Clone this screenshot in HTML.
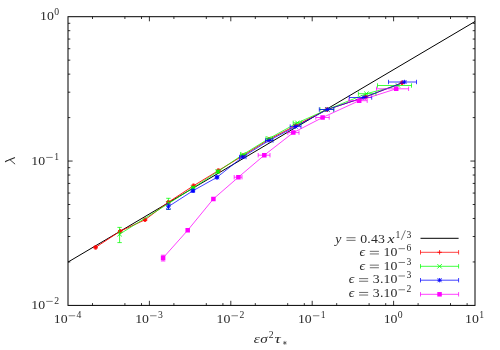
<!DOCTYPE html>
<html><head><meta charset="utf-8"><title>plot</title>
<style>html,body{margin:0;padding:0;background:#fff;}svg{display:block;will-change:transform;}text{font-family:"Liberation Serif",serif;fill:#2a2a2a;}.i{font-style:italic;}</style></head><body>
<svg width="500" height="350" viewBox="0 0 500 350">
<rect x="0" y="0" width="500" height="350" fill="#ffffff"/>
<path d="M92.50 305.4V303.10M92.50 16.7V19.00M124.90 305.4V303.10M124.90 16.7V19.00M141.51 305.4V303.10M141.51 16.7V19.00M149.40 305.4V300.80M149.40 16.7V21.30M173.90 305.4V303.10M173.90 16.7V19.00M206.30 305.4V303.10M206.30 16.7V19.00M222.91 305.4V303.10M222.91 16.7V19.00M230.80 305.4V300.80M230.80 16.7V21.30M255.30 305.4V303.10M255.30 16.7V19.00M287.70 305.4V303.10M287.70 16.7V19.00M304.31 305.4V303.10M304.31 16.7V19.00M312.20 305.4V300.80M312.20 16.7V21.30M336.70 305.4V303.10M336.70 16.7V19.00M369.10 305.4V303.10M369.10 16.7V19.00M385.71 305.4V303.10M385.71 16.7V19.00M393.60 305.4V300.80M393.60 16.7V21.30M418.10 305.4V303.10M418.10 16.7V19.00M450.50 305.4V303.10M450.50 16.7V19.00M467.11 305.4V303.10M467.11 16.7V19.00M68.0 117.60H70.30M475.0 117.60H472.70M68.0 92.18H70.30M475.0 92.18H472.70M68.0 74.14H70.30M475.0 74.14H472.70M68.0 60.15H70.30M475.0 60.15H472.70M68.0 48.72H70.30M475.0 48.72H472.70M68.0 39.06H70.30M475.0 39.06H472.70M68.0 30.69H70.30M475.0 30.69H472.70M68.0 23.31H70.30M475.0 23.31H472.70M68.0 161.05H72.60M475.0 161.05H470.40M68.0 261.95H70.30M475.0 261.95H472.70M68.0 236.53H70.30M475.0 236.53H472.70M68.0 218.49H70.30M475.0 218.49H472.70M68.0 204.50H70.30M475.0 204.50H472.70M68.0 193.07H70.30M475.0 193.07H472.70M68.0 183.41H70.30M475.0 183.41H472.70M68.0 175.04H70.30M475.0 175.04H472.70M68.0 167.66H70.30M475.0 167.66H472.70" stroke="#000" stroke-width="0.8" fill="none"/>
<path d="M68.00 262.08L475.00 21.49" stroke="#000" stroke-width="1.0" fill="none"/>
<path d="M95.6 247.4L120.2 231.2L145.0 219.8L168.4 202.2L193.5 185.8L218.4 170.6L243.0 155.6L269.0 139.4L295.6 125.6L327.0 109.6L365.6 96.9L402.0 82.8" stroke="#ff0000" stroke-width="0.9" fill="none"/>
<path d="M93.4 247.4H97.8M95.6 245.2V249.6M94.9 245.2V249.6M96.3 245.2V249.6M93.4 246.7H97.8M93.4 248.1H97.8M118.0 231.2H122.4M120.2 229.0V233.4M119.5 229.0V233.4M120.9 229.0V233.4M118.0 230.5H122.4M118.0 231.9H122.4M142.8 219.8H147.2M145.0 217.6V222.0M144.3 217.6V222.0M145.7 217.6V222.0M142.8 219.1H147.2M142.8 220.5H147.2M166.2 202.2H170.6M168.4 200.0V204.4M167.7 200.0V204.4M169.1 200.0V204.4M166.2 201.5H170.6M166.2 202.9H170.6M191.3 185.8H195.7M193.5 183.6V188.0M192.8 183.6V188.0M194.2 183.6V188.0M191.3 185.1H195.7M191.3 186.5H195.7M216.2 170.6H220.6M218.4 168.4V172.8M217.7 168.4V172.8M219.1 168.4V172.8M216.2 169.9H220.6M216.2 171.3H220.6M240.8 155.6H245.2M243.0 153.4V157.8M242.3 153.4V157.8M243.7 153.4V157.8M240.8 154.9H245.2M240.8 156.3H245.2M266.8 139.4H271.2M269.0 137.2V141.6M268.3 137.2V141.6M269.7 137.2V141.6M266.8 138.7H271.2M266.8 140.1H271.2M293.4 125.6H297.8M295.6 123.4V127.8M294.9 123.4V127.8M296.3 123.4V127.8M293.4 124.9H297.8M293.4 126.3H297.8M324.8 109.6H329.2M327.0 107.4V111.8M326.3 107.4V111.8M327.7 107.4V111.8M324.8 108.9H329.2M324.8 110.3H329.2M363.4 96.9H367.8M365.6 94.7V99.1M364.9 94.7V99.1M366.3 94.7V99.1M363.4 96.2H367.8M363.4 97.6H367.8M399.8 82.8H404.2M402.0 80.6V85.0M401.3 80.6V85.0M402.7 80.6V85.0M399.8 82.1H404.2M399.8 83.5H404.2" stroke="#ff0000" stroke-width="0.85" fill="none"/>
<path d="M119.6 234.2L168.4 203.6L193.0 187.9L217.8 171.6L243.0 154.5L269.0 138.5L297.4 122.8L327.4 109.5L366.4 93.7L398.0 85.5" stroke="#00ff00" stroke-width="0.75" fill="none"/>
<path d="M119.6 227.4V242.6M117.4 227.4H121.8M117.4 242.6H121.8M168.4 198.3V209.3M166.2 198.3H170.6M166.2 209.3H170.6M240.5 154.5H246.0M240.5 152.3V156.7M246.0 152.3V156.7M266.0 138.5H272.5M266.0 136.3V140.7M272.5 136.3V140.7M293.2 122.8H301.6M293.2 120.6V125.0M301.6 120.6V125.0M320.0 109.5H333.6M320.0 107.3V111.7M333.6 107.3V111.7M358.4 93.7H376.0M358.4 91.5V95.9M376.0 91.5V95.9M377.5 85.5H411.5M377.5 83.3V87.7M411.5 83.3V87.7" stroke="#00ff00" stroke-width="0.75" fill="none"/>
<path d="M117.4 232.0L121.8 236.4M117.4 236.4L121.8 232.0M166.2 201.4L170.6 205.8M166.2 205.8L170.6 201.4M190.8 185.7L195.2 190.1M190.8 190.1L195.2 185.7M192.3 185.7V190.1M193.7 185.7V190.1M190.8 187.2H195.2M190.8 188.6H195.2M215.6 169.4L220.0 173.8M215.6 173.8L220.0 169.4M217.1 169.4V173.8M218.5 169.4V173.8M215.6 170.9H220.0M215.6 172.3H220.0M240.8 152.3L245.2 156.7M240.8 156.7L245.2 152.3M266.8 136.3L271.2 140.7M266.8 140.7L271.2 136.3M295.2 120.6L299.6 125.0M295.2 125.0L299.6 120.6M325.2 107.3L329.6 111.7M325.2 111.7L329.6 107.3M364.2 91.5L368.6 95.9M364.2 95.9L368.6 91.5M395.8 83.3L400.2 87.7M395.8 87.7L400.2 83.3" stroke="#00ff00" stroke-width="0.85" fill="none"/>
<path d="M168.4 206.6L192.9 190.8L217.0 177.3L242.6 157.0L269.0 140.5L295.6 126.6L327.4 109.5L363.7 97.5L404.5 82.0" stroke="#0000ff" stroke-width="0.75" fill="none"/>
<path d="M168.4 204.0V209.4M166.2 204.0H170.6M166.2 209.4H170.6M239.5 157.0H246.0M239.5 154.8V159.2M246.0 154.8V159.2M265.5 140.5H273.0M265.5 138.3V142.7M273.0 138.3V142.7M290.2 126.6H301.0M290.2 124.4V128.8M301.0 124.4V128.8M319.3 109.5H333.9M319.3 107.3V111.7M333.9 107.3V111.7M349.3 97.5H371.7M349.3 95.3V99.7M371.7 95.3V99.7M388.5 82.0H416.5M388.5 79.8V84.2M416.5 79.8V84.2" stroke="#0000ff" stroke-width="0.75" fill="none"/>
<path d="M166.4 204.6L170.4 208.6M166.4 208.6L170.4 204.6M166.2 206.6H170.6M168.4 204.4V208.8M190.9 188.8L194.9 192.8M190.9 192.8L194.9 188.8M190.7 190.8H195.1M192.9 188.6V193.0M192.2 188.6V193.0M193.6 188.6V193.0M190.7 190.1H195.1M190.7 191.5H195.1M215.0 175.3L219.0 179.3M215.0 179.3L219.0 175.3M214.8 177.3H219.2M217.0 175.1V179.5M216.3 175.1V179.5M217.7 175.1V179.5M214.8 176.6H219.2M214.8 178.0H219.2M240.6 155.0L244.6 159.0M240.6 159.0L244.6 155.0M240.4 157.0H244.8M242.6 154.8V159.2M267.0 138.5L271.0 142.5M267.0 142.5L271.0 138.5M266.8 140.5H271.2M269.0 138.3V142.7M293.6 124.6L297.6 128.6M293.6 128.6L297.6 124.6M293.4 126.6H297.8M295.6 124.4V128.8M325.4 107.5L329.4 111.5M325.4 111.5L329.4 107.5M325.2 109.5H329.6M327.4 107.3V111.7M361.7 95.5L365.7 99.5M361.7 99.5L365.7 95.5M361.5 97.5H365.9M363.7 95.3V99.7M402.5 80.0L406.5 84.0M402.5 84.0L406.5 80.0M402.3 82.0H406.7M404.5 79.8V84.2" stroke="#0000ff" stroke-width="0.85" fill="none"/>
<path d="M163.1 257.9L187.7 230.3L213.4 198.9L238.4 177.2L264.3 155.2L293.3 132.6L322.6 117.5L359.2 100.7L396.2 88.8" stroke="#ff00ff" stroke-width="0.75" fill="none"/>
<path d="M163.1 255.2V261.0M160.9 255.2H165.3M160.9 261.0H165.3M234.2 177.2H242.0M234.2 175.0V179.4M242.0 175.0V179.4M258.2 155.2H270.0M258.2 153.0V157.4M270.0 153.0V157.4M287.8 132.6H299.0M287.8 130.4V134.8M299.0 130.4V134.8M315.8 117.5H329.2M315.8 115.3V119.7M329.2 115.3V119.7M348.8 100.7H367.2M348.8 98.5V102.9M367.2 98.5V102.9M376.5 88.8H408.6M376.5 86.6V91.0M408.6 86.6V91.0" stroke="#ff00ff" stroke-width="0.75" fill="none"/>
<path d="M160.85 255.65h4.5v4.5h-4.5zM185.45 228.05h4.5v4.5h-4.5zM211.15 196.65h4.5v4.5h-4.5zM236.15 174.95h4.5v4.5h-4.5zM262.05 152.95h4.5v4.5h-4.5zM291.05 130.35h4.5v4.5h-4.5zM320.35 115.25h4.5v4.5h-4.5zM356.95 98.45h4.5v4.5h-4.5zM393.95 86.55h4.5v4.5h-4.5z" fill="#ff00ff" stroke="none"/>
<path d="M420.5 238.3H458.6" stroke="#000" stroke-width="1.0" fill="none"/>
<path d="M420.5 252.3H458.6M420.5 250.10000000000002V254.5M458.6 250.10000000000002V254.5" stroke="#ff0000" stroke-width="0.75" fill="none"/>
<path d="M437.4 252.3H441.8M439.6 250.1V254.5" stroke="#ff0000" stroke-width="0.85" fill="none"/>
<path d="M420.5 266.3H458.6M420.5 264.1V268.5M458.6 264.1V268.5" stroke="#00ff00" stroke-width="0.75" fill="none"/>
<path d="M437.4 264.1L441.8 268.5M437.4 268.5L441.8 264.1" stroke="#00ff00" stroke-width="0.85" fill="none"/>
<path d="M420.5 280.2H458.6M420.5 278.0V282.4M458.6 278.0V282.4" stroke="#0000ff" stroke-width="0.75" fill="none"/>
<path d="M437.6 278.2L441.6 282.2M437.6 282.2L441.6 278.2M437.4 280.2H441.8M439.6 278.0V282.4" stroke="#0000ff" stroke-width="0.85" fill="none"/>
<path d="M420.5 294.3H458.6M420.5 292.1V296.5M458.6 292.1V296.5" stroke="#ff00ff" stroke-width="0.75" fill="none"/>
<path d="M437.30 292.05h4.5v4.5h-4.5z" fill="#ff00ff"/>
<rect x="68.0" y="16.7" width="407.0" height="288.7" fill="none" stroke="#000" stroke-width="1.0"/>
<text transform="translate(39.96,20.30) scale(1.000,0.97)" font-size="13.84">1</text>
<text transform="translate(46.88,20.30) scale(1.000,0.97)" font-size="13.84">0</text>
<text transform="translate(54.13,15.30) scale(1.000,0.97)" font-size="9.69">0</text>
<text transform="translate(31.30,164.85) scale(1.000,0.97)" font-size="13.84">1</text>
<text transform="translate(38.22,164.85) scale(1.000,0.97)" font-size="13.84">0</text>
<path d="M46.21 157.43H52.73" stroke="#2a2a2a" stroke-width="0.62" fill="none"/>
<text transform="translate(54.13,159.85) scale(1.000,0.97)" font-size="9.69">1</text>
<text transform="translate(31.30,308.80) scale(1.000,0.97)" font-size="13.84">1</text>
<text transform="translate(38.22,308.80) scale(1.000,0.97)" font-size="13.84">0</text>
<path d="M46.21 301.38H52.73" stroke="#2a2a2a" stroke-width="0.62" fill="none"/>
<text transform="translate(54.13,303.80) scale(1.000,0.97)" font-size="9.69">2</text>
<text transform="translate(53.75,323.20) scale(1.000,0.97)" font-size="13.84">1</text>
<text transform="translate(60.67,323.20) scale(1.000,0.97)" font-size="13.84">0</text>
<path d="M68.66 315.78H75.18" stroke="#2a2a2a" stroke-width="0.62" fill="none"/>
<text transform="translate(76.58,318.20) scale(1.000,0.97)" font-size="9.69">4</text>
<text transform="translate(135.15,323.20) scale(1.000,0.97)" font-size="13.84">1</text>
<text transform="translate(142.07,323.20) scale(1.000,0.97)" font-size="13.84">0</text>
<path d="M150.06 315.78H156.58" stroke="#2a2a2a" stroke-width="0.62" fill="none"/>
<text transform="translate(157.98,318.20) scale(1.000,0.97)" font-size="9.69">3</text>
<text transform="translate(216.55,323.20) scale(1.000,0.97)" font-size="13.84">1</text>
<text transform="translate(223.47,323.20) scale(1.000,0.97)" font-size="13.84">0</text>
<path d="M231.46 315.78H237.98" stroke="#2a2a2a" stroke-width="0.62" fill="none"/>
<text transform="translate(239.38,318.20) scale(1.000,0.97)" font-size="9.69">2</text>
<text transform="translate(297.95,323.20) scale(1.000,0.97)" font-size="13.84">1</text>
<text transform="translate(304.87,323.20) scale(1.000,0.97)" font-size="13.84">0</text>
<path d="M312.86 315.78H319.38" stroke="#2a2a2a" stroke-width="0.62" fill="none"/>
<text transform="translate(320.78,318.20) scale(1.000,0.97)" font-size="9.69">1</text>
<text transform="translate(383.68,323.20) scale(1.000,0.97)" font-size="13.84">1</text>
<text transform="translate(390.60,323.20) scale(1.000,0.97)" font-size="13.84">0</text>
<text transform="translate(397.85,318.20) scale(1.000,0.97)" font-size="9.69">0</text>
<text transform="translate(465.08,323.20) scale(1.000,0.97)" font-size="13.84">1</text>
<text transform="translate(472.00,323.20) scale(1.000,0.97)" font-size="13.84">0</text>
<text transform="translate(479.25,318.20) scale(1.000,0.97)" font-size="9.69">1</text>
<text transform="translate(335.32,242.50) scale(1.000,0.97)" font-size="13.84" class="i">y</text>
<path d="M346.46 237.74H355.56" stroke="#2a2a2a" stroke-width="0.68" fill="none"/>
<path d="M346.46 240.34H355.56" stroke="#2a2a2a" stroke-width="0.68" fill="none"/>
<text transform="translate(360.24,242.50) scale(1.000,0.97)" font-size="13.84">0</text>
<text transform="translate(367.35,242.50) scale(1.000,0.97)" font-size="13.84">.</text>
<text transform="translate(371.01,242.50) scale(1.000,0.97)" font-size="13.84">4</text>
<text transform="translate(377.93,242.50) scale(1.000,0.97)" font-size="13.84">3</text>
<text transform="translate(387.58,242.50) scale(1.150,0.97)" font-size="13.84" class="i">x</text>
<text transform="translate(395.40,237.50) scale(1.000,0.97)" font-size="9.69">1</text>
<path d="M401.26 239.92L405.42 230.23" stroke="#2a2a2a" stroke-width="0.62" fill="none"/>
<text transform="translate(406.43,237.50) scale(1.000,0.97)" font-size="9.69">3</text>
<text transform="translate(359.55,256.10) scale(1.000,0.97)" font-size="13.84" class="i">ϵ</text>
<path d="M369.82 251.34H378.93" stroke="#2a2a2a" stroke-width="0.68" fill="none"/>
<path d="M369.82 253.94H378.93" stroke="#2a2a2a" stroke-width="0.68" fill="none"/>
<text transform="translate(383.60,256.10) scale(1.000,0.97)" font-size="13.84">1</text>
<text transform="translate(390.52,256.10) scale(1.000,0.97)" font-size="13.84">0</text>
<path d="M398.51 248.68H405.03" stroke="#2a2a2a" stroke-width="0.62" fill="none"/>
<text transform="translate(406.43,251.10) scale(1.000,0.97)" font-size="9.69">6</text>
<text transform="translate(359.55,269.90) scale(1.000,0.97)" font-size="13.84" class="i">ϵ</text>
<path d="M369.82 265.14H378.93" stroke="#2a2a2a" stroke-width="0.68" fill="none"/>
<path d="M369.82 267.74H378.93" stroke="#2a2a2a" stroke-width="0.68" fill="none"/>
<text transform="translate(383.60,269.90) scale(1.000,0.97)" font-size="13.84">1</text>
<text transform="translate(390.52,269.90) scale(1.000,0.97)" font-size="13.84">0</text>
<path d="M398.51 262.48H405.03" stroke="#2a2a2a" stroke-width="0.62" fill="none"/>
<text transform="translate(406.43,264.90) scale(1.000,0.97)" font-size="9.69">3</text>
<text transform="translate(348.78,283.40) scale(1.000,0.97)" font-size="13.84" class="i">ϵ</text>
<path d="M359.05 278.64H368.16" stroke="#2a2a2a" stroke-width="0.68" fill="none"/>
<path d="M359.05 281.24H368.16" stroke="#2a2a2a" stroke-width="0.68" fill="none"/>
<text transform="translate(372.84,283.40) scale(1.000,0.97)" font-size="13.84">3</text>
<text transform="translate(379.95,283.40) scale(1.000,0.97)" font-size="13.84">.</text>
<text transform="translate(383.60,283.40) scale(1.000,0.97)" font-size="13.84">1</text>
<text transform="translate(390.52,283.40) scale(1.000,0.97)" font-size="13.84">0</text>
<path d="M398.51 275.98H405.03" stroke="#2a2a2a" stroke-width="0.62" fill="none"/>
<text transform="translate(406.43,278.40) scale(1.000,0.97)" font-size="9.69">3</text>
<text transform="translate(348.78,297.20) scale(1.000,0.97)" font-size="13.84" class="i">ϵ</text>
<path d="M359.05 292.44H368.16" stroke="#2a2a2a" stroke-width="0.68" fill="none"/>
<path d="M359.05 295.04H368.16" stroke="#2a2a2a" stroke-width="0.68" fill="none"/>
<text transform="translate(372.84,297.20) scale(1.000,0.97)" font-size="13.84">3</text>
<text transform="translate(379.95,297.20) scale(1.000,0.97)" font-size="13.84">.</text>
<text transform="translate(383.60,297.20) scale(1.000,0.97)" font-size="13.84">1</text>
<text transform="translate(390.52,297.20) scale(1.000,0.97)" font-size="13.84">0</text>
<path d="M398.51 289.78H405.03" stroke="#2a2a2a" stroke-width="0.62" fill="none"/>
<text transform="translate(406.43,292.20) scale(1.000,0.97)" font-size="9.69">2</text>
<text transform="translate(253.84,343.20) scale(1.100,0.97)" font-size="13.84" class="i">ε</text>
<text transform="translate(260.27,343.20) scale(1.100,0.97)" font-size="13.84" class="i">σ</text>
<text transform="translate(268.81,338.20) scale(1.000,0.97)" font-size="9.69">2</text>
<text transform="translate(274.60,343.20) scale(1.250,0.97)" font-size="13.84" class="i">τ</text>
<path d="M284.86 340.88L284.86 344.88M283.12 341.88L286.59 343.88M286.59 341.88L283.12 343.88" stroke="#2a2a2a" stroke-width="0.6" fill="none"/>
<path d="M5.5 161.7C6.0 161.0 6.8 160.7 8.2 160.2L14.5 157.7" stroke="#2a2a2a" stroke-width="1.15" fill="none" stroke-linecap="round"/>
<path d="M10.2 159.9L14.8 163.9" stroke="#2a2a2a" stroke-width="0.9" fill="none" stroke-linecap="round"/>
</svg></body></html>
